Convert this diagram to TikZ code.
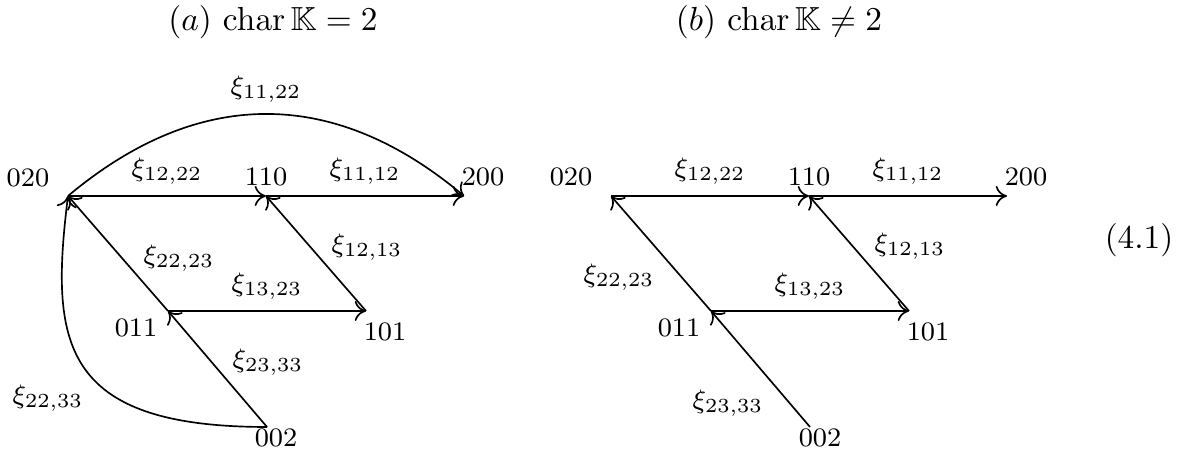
\documentclass[tikz,border=0pt]{standalone}
\usepackage{amsmath,amssymb}
\usetikzlibrary{arrows.meta}

\begin{document}
\begin{tikzpicture}[x=0.3pt, y=0.3pt, >={To[length=3.4pt, width=6pt]}, line width=0.5pt,
    every node/.style={font=\footnotesize},
    title/.style={font=\normalsize}]
    \useasboundingbox (0,0) rectangle (1190,452);

    \node[title] (ttl-a) at (273,430) {$(a)$ $\operatorname{char}\mathbb{K}=2$};
    \node[title] (ttl-b) at (779,430) {$(b)$ $\operatorname{char}\mathbb{K}\neq 2$};
    \node[title] (eqno) at (1139,212) {$(4.1)$};

    % (a) char K = 2
    \coordinate (a-020) at (68,256);
    \coordinate (a-110) at (266,256);
    \coordinate (a-200) at (464,256);
    \coordinate (a-011) at (168,141);
    \coordinate (a-101) at (366,141);
    \coordinate (a-002) at (267,25);

    \node (t-a-020) at (28,274) {$020$};
    \node (t-a-110) at (266,275) {$110$};
    \node (t-a-200) at (483,275) {$200$};
    \node (t-a-011) at (136,124) {$011$};
    \node (t-a-101) at (385,120) {$101$};
    \node (t-a-002) at (276,14) {$002$};

    \draw[->] (a-020) -- (a-110) node[midway, above] (x-a-1222) {$\xi_{12,22}$};
    \draw[->] (a-110) -- (a-200) node[midway, above] (x-a-1112) {$\xi_{11,12}$};
    \draw[->] (a-011) -- (a-101) node[midway, above] (x-a-1323) {$\xi_{13,23}$};
    \draw[->] (a-101) -- (a-110);
    \draw[->] (a-011) -- (a-020);
    \draw[->] (a-002) -- (a-011);
    \draw[->] (a-020) to[out=40, in=140, looseness=1.1]
        node[midway, above] (x-a-1122) {$\xi_{11,22}$} (a-200);
    \draw[->] (a-002) .. controls +(-207,0) and +(-18,-146) .. (a-020);

    \node (x-a-1213) at (367,205) {$\xi_{12,13}$};
    \node (x-a-2223) at (179,194) {$\xi_{22,23}$};
    \node (x-a-2333) at (268,90) {$\xi_{23,33}$};
    \node (x-a-2233) at (48,54) {$\xi_{22,33}$};

    % (b) char K != 2, ohne die beiden Boegen
    \coordinate (b-020) at (611,256);
    \coordinate (b-110) at (809,256);
    \coordinate (b-200) at (1007,256);
    \coordinate (b-011) at (711,141);
    \coordinate (b-101) at (909,141);
    \coordinate (b-002) at (810,25);

    \node (t-b-020) at (571,275) {$020$};
    \node (t-b-110) at (809,275) {$110$};
    \node (t-b-200) at (1026,275) {$200$};
    \node (t-b-011) at (679,124) {$011$};
    \node (t-b-101) at (928,120) {$101$};
    \node (t-b-002) at (820,14) {$002$};

    \draw[->] (b-020) -- (b-110) node[midway, above] (x-b-1222) {$\xi_{12,22}$};
    \draw[->] (b-110) -- (b-200) node[midway, above] (x-b-1112) {$\xi_{11,12}$};
    \draw[->] (b-011) -- (b-101) node[midway, above] (x-b-1323) {$\xi_{13,23}$};
    \draw[->] (b-101) -- (b-110);
    \draw[->] (b-011) -- (b-020);
    \draw[->] (b-002) -- (b-011);

    \node (x-b-1213) at (910,206) {$\xi_{12,13}$};
    \node (x-b-2223) at (619,175) {$\xi_{22,23}$};
    \node (x-b-2333) at (728,49) {$\xi_{23,33}$};
\end{tikzpicture}
\end{document}
